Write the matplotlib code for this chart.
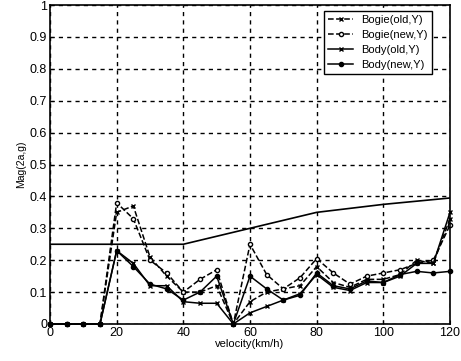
import numpy as np
import matplotlib
matplotlib.use("Agg")
import matplotlib.pyplot as plt

plt.rcParams['font.family'] = ['Liberation Sans', 'DejaVu Sans']

# velocidade (km/h)
velocidade = [0, 5, 10, 15, 20, 25, 30, 35, 40, 45, 50, 55, 60,
              65, 70, 75, 80, 85, 90, 95, 100, 105, 110, 115, 120]

bogie_old = [0, 0, 0, 0, 0.35, 0.37, 0.21, 0.15, 0.10, 0.10, 0.12, 0.0, 0.07,
             0.10, 0.11, 0.12, 0.18, 0.13, 0.115, 0.14, 0.14, 0.155, 0.20, 0.19, 0.33]
bogie_new = [0, 0, 0, 0, 0.38, 0.33, 0.20, 0.16, 0.10, 0.14, 0.17, 0.0, 0.25,
             0.155, 0.11, 0.145, 0.205, 0.16, 0.125, 0.15, 0.16, 0.17, 0.19, 0.20, 0.31]
body_old = [0, 0, 0, 0, 0.23, 0.19, 0.12, 0.12, 0.07, 0.065, 0.065, 0.0, 0.035,
            0.055, 0.075, 0.095, 0.155, 0.115, 0.105, 0.13, 0.13, 0.15, 0.19, 0.19, 0.35]
body_new = [0, 0, 0, 0, 0.23, 0.18, 0.125, 0.11, 0.075, 0.10, 0.15, 0.0, 0.15,
            0.11, 0.075, 0.09, 0.16, 0.12, 0.11, 0.135, 0.13, 0.155, 0.165, 0.16, 0.165]

# linha de limite
limite_x = [0, 40, 60, 80, 100, 120]
limite_y = [0.25, 0.25, 0.30, 0.35, 0.375, 0.395]

fig = plt.figure(figsize=(4.61, 3.61), dpi=100)
ax = fig.add_axes([50 / 461, 37 / 361, 400 / 461, 319 / 361])

ax.plot(velocidade, bogie_old, color='black', ls='--', lw=1.1, marker='x', ms=3.5,
        label='Bogie(old,Y)', clip_on=False)
ax.plot(velocidade, bogie_new, color='black', ls='--', lw=1.1, marker='o', ms=3,
        mfc='white', label='Bogie(new,Y)', clip_on=False)
ax.plot(velocidade, body_old, color='black', ls='-', lw=1.1, marker='x', ms=3.5,
        label='Body(old,Y)', clip_on=False)
ax.plot(velocidade, body_new, color='black', ls='-', lw=1.1, marker='o', ms=3,
        label='Body(new,Y)', clip_on=False)
ax.plot(limite_x, limite_y, color='black', ls='-', lw=1.2)

ax.set_xlim(0, 120)
ax.set_ylim(0, 1)
ax.set_xticks(range(0, 121, 20))
ax.set_yticks(np.arange(0, 1.01, 0.1))
ax.set_yticklabels(['0', '0.1', '0.2', '0.3', '0.4', '0.5', '0.6', '0.7', '0.8', '0.9', '1'])
ax.grid(True, color='black', ls=(0, (3, 3)), lw=1.0)
ax.tick_params(labelsize=9, length=3, direction='in', pad=2)
for s in ax.spines.values():
    s.set_linewidth(1.2)

ax.set_xlabel('velocity(km/h)', fontsize=8, labelpad=0)
ax.set_ylabel('Mag(2a,g)', fontsize=7.5, labelpad=3)

leg = ax.legend(loc='upper right', fontsize=8, frameon=True, fancybox=False,
                edgecolor='black', handlelength=2.2, borderpad=0.35,
                labelspacing=0.45, borderaxespad=0, framealpha=1,
                bbox_to_anchor=(0.955, 0.98))
leg.get_frame().set_linewidth(1.0)

fig.savefig('out.png', dpi=100)
